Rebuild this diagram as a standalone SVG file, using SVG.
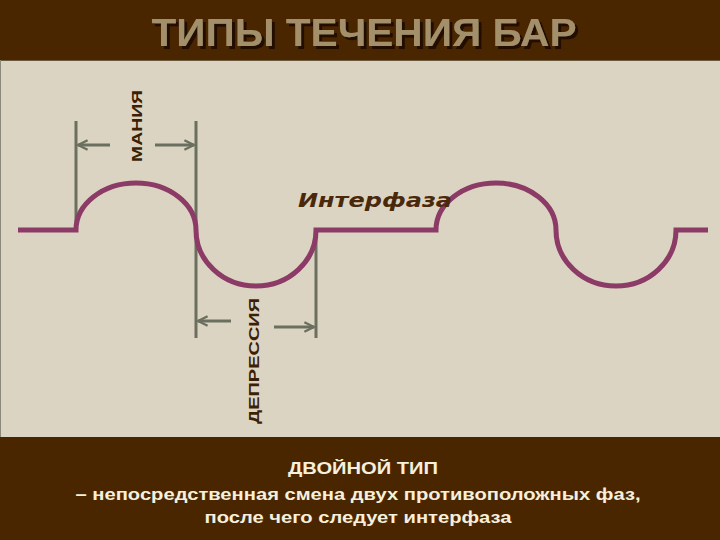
<svg xmlns="http://www.w3.org/2000/svg" width="720" height="540" viewBox="0 0 720 540">
<style>
.dim{stroke:#6a6f5f;stroke-width:3;fill:none}
.arr{stroke:#6a6f5f;stroke-width:3;fill:none;marker-end:url(#ah)}
.wave{stroke:#8c3a66;stroke-width:5;fill:none}
.lbl{font-family:"Liberation Sans",Arial,sans-serif;font-weight:bold;font-size:15px;fill:#3d1f05}
.bt{font-family:"Liberation Sans",Arial,sans-serif;font-weight:bold;font-size:16px;fill:#f6efdc;text-anchor:middle}
</style>
<defs>
<marker id="ah" viewBox="0 0 10 10" refX="9" refY="5" markerWidth="4" markerHeight="4" orient="auto" markerUnits="strokeWidth">
<path d="M1,1 L9,5 L1,9" fill="none" stroke="#6a6f5f" stroke-width="2"/>
</marker>
<filter id="sh" x="-5%" y="-20%" width="110%" height="140%">
<feDropShadow dx="3" dy="3" stdDeviation="0.4" flood-color="#220f00" flood-opacity="1"/>
</filter>
</defs>
<rect x="0" y="0" width="720" height="540" fill="#4a2600"/>
<rect x="0" y="60" width="720" height="377" fill="#dcd4c2"/>
<line x1="0" y1="60.5" x2="720" y2="60.5" stroke="#6b5a3e" stroke-width="1"/>
<line x1="0.5" y1="60" x2="0.5" y2="437" stroke="#8a8a7a" stroke-width="1"/>
<g id="title">
<text x="364" y="46" font-family="'Liberation Sans',Arial,sans-serif" font-weight="bold" font-size="38" fill="#a38f6a" text-anchor="middle" textLength="425" lengthAdjust="spacingAndGlyphs" filter="url(#sh)">ТИПЫ ТЕЧЕНИЯ БАР</text>
</g>
<g id="connectors">
<line class="dim" x1="76" y1="121" x2="76" y2="230"/>
<line class="dim" x1="196" y1="121" x2="196" y2="338"/>
<line class="dim" x1="316" y1="230" x2="316" y2="338"/>
<line class="arr" x1="110" y1="145" x2="78" y2="145"/>
<line class="arr" x1="155" y1="145" x2="194" y2="145"/>
<line class="arr" x1="231" y1="321" x2="198" y2="321"/>
<line class="arr" x1="274" y1="327" x2="314" y2="327"/>
</g>
<g id="wave">
<path class="wave" d="M18,230 H76 A60,47 0 0 1 196,230 A60,56 0 0 0 316,230 H436 A60,47 0 0 1 556,230 A60,56 0 0 0 676,230 H708"/>
</g>
<g id="mania">
<text class="lbl" transform="translate(142,126) rotate(-90)" text-anchor="middle" textLength="72" lengthAdjust="spacingAndGlyphs">МАНИЯ</text>
</g>
<g id="depressia">
<text class="lbl" transform="translate(259,361) rotate(-90)" text-anchor="middle" textLength="126" lengthAdjust="spacingAndGlyphs">ДЕПРЕССИЯ</text>
</g>
<g id="interphase">
<text x="298" y="207" font-family="'DejaVu Sans',sans-serif" font-weight="bold" font-style="italic" font-size="20" fill="#4a280a" textLength="154" lengthAdjust="spacingAndGlyphs">Интерфаза</text>
</g>
<g id="caption">
<text class="bt" x="363" y="474" textLength="150" lengthAdjust="spacingAndGlyphs">ДВОЙНОЙ ТИП</text>
<text class="bt" x="358" y="500" textLength="565" lengthAdjust="spacingAndGlyphs">– непосредственная смена двух противоположных фаз,</text>
<text class="bt" x="358" y="523" textLength="307" lengthAdjust="spacingAndGlyphs">после чего следует интерфаза</text>
</g>
</svg>
